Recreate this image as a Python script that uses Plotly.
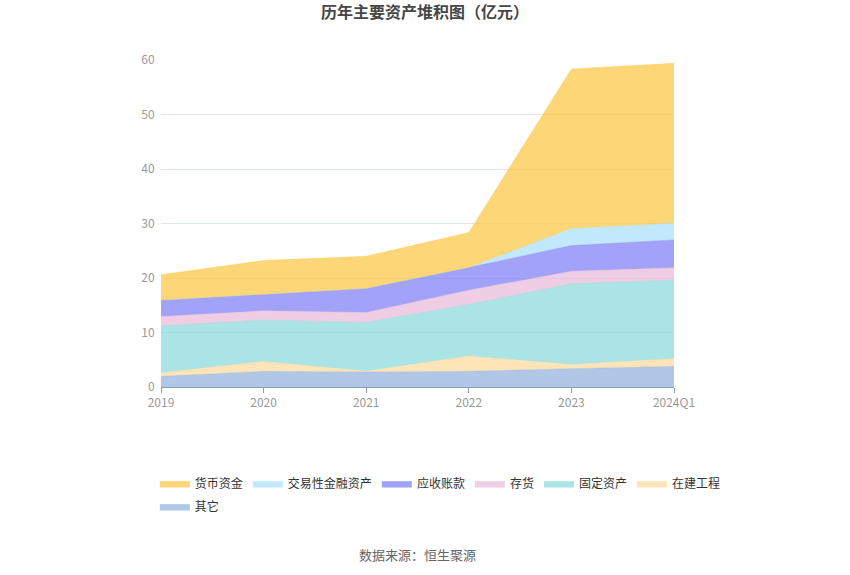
import plotly.graph_objects as go

years = ['2019', '2020', '2021', '2022', '2023', '2024Q1']

# 亿元, 自下而上堆积
other = [1.95, 2.87, 2.75, 2.87, 3.36, 3.79]
construction = [0.65, 1.83, 0.12, 2.81, 0.79, 1.40]
fixed_assets = [8.60, 7.57, 8.97, 9.46, 14.78, 14.41]
inventory = [1.75, 1.71, 1.84, 2.63, 2.32, 2.26]
receivables = [2.95, 2.99, 4.39, 4.15, 4.70, 5.12]
trading_assets = [0.0, 0.0, 0.0, 0.0, 3.11, 3.06]
cash = [4.70, 6.23, 5.92, 6.41, 29.30, 29.36]

series = [
    ('其它', other, (143, 176, 220)),
    ('在建工程', construction, (255, 217, 154)),
    ('固定资产', fixed_assets, (136, 216, 216)),
    ('存货', inventory, (232, 184, 216)),
    ('应收账款', receivables, (122, 124, 245)),
    ('交易性金融资产', trading_assets, (168, 224, 250)),
    ('货币资金', cash, (252, 197, 61)),
]

fig = go.Figure()

for name, values, (r, g, b) in series:
    # 图例换行: "其它" 单独放在第二行
    legend_id = 'legend2' if name == '其它' else 'legend'
    fig.add_trace(go.Scatter(
        x=years, y=values,
        name=name,
        mode='lines',
        stackgroup='assets',
        line=dict(width=0.5, color=f'rgba({r},{g},{b},0.7)'),
        fillcolor=f'rgba({r},{g},{b},0.7)',
        legend=legend_id,
        hovertemplate=f'{name}: %{{y:.2f}}亿元<extra></extra>',
    ))

legend_style = dict(
    orientation='h',
    xanchor='left',
    yanchor='top',
    font=dict(size=12, color='#333'),
    itemwidth=30,
    bgcolor='rgba(0,0,0,0)',
)

fig.update_layout(
    width=850,
    height=575,
    margin=dict(l=161, r=176, t=60, b=188),
    plot_bgcolor='white',
    paper_bgcolor='white',
    font=dict(family='Noto Sans CJK SC', size=12, color='#333'),
    title=dict(
        text='<b>历年主要资产堆积图（亿元）</b>',
        x=0.5, xanchor='center', y=0.979, yanchor='middle',
        font=dict(size=16, color='#464646'),
    ),
    xaxis=dict(
        type='category',
        range=[0, 5],
        showgrid=False,
        showline=True,
        linecolor='#8a9bbf',
        linewidth=1,
        ticks='outside',
        ticklen=5,
        tickcolor='#8a9bbf',
        tickfont=dict(size=12, color='#999'),
    ),
    yaxis=dict(
        range=[0, 60],
        dtick=10,
        showgrid=True,
        gridcolor='#e0e6f1',
        zeroline=False,
        showline=False,
        tickfont=dict(size=12, color='#999'),
        ticksuffix='  ',
    ),
    legend=dict(legend_style, x=-0.012, y=-0.251, traceorder='reversed'),
    legend2=dict(legend_style, x=-0.012, y=-0.321),
    showlegend=True,
)

fig.add_annotation(
    text='数据来源：恒生聚源',
    xref='paper', yref='paper',
    x=0.5, y=-0.511, xanchor='center', yanchor='middle',
    showarrow=False,
    font=dict(size=13, color='#666'),
)

# 去掉页面默认的 body 边距, 让图表贴齐窗口左上角
fig.write_html(
    'out.html',
    config={'displayModeBar': False},
    post_script="document.body.style.margin='0';",
)
